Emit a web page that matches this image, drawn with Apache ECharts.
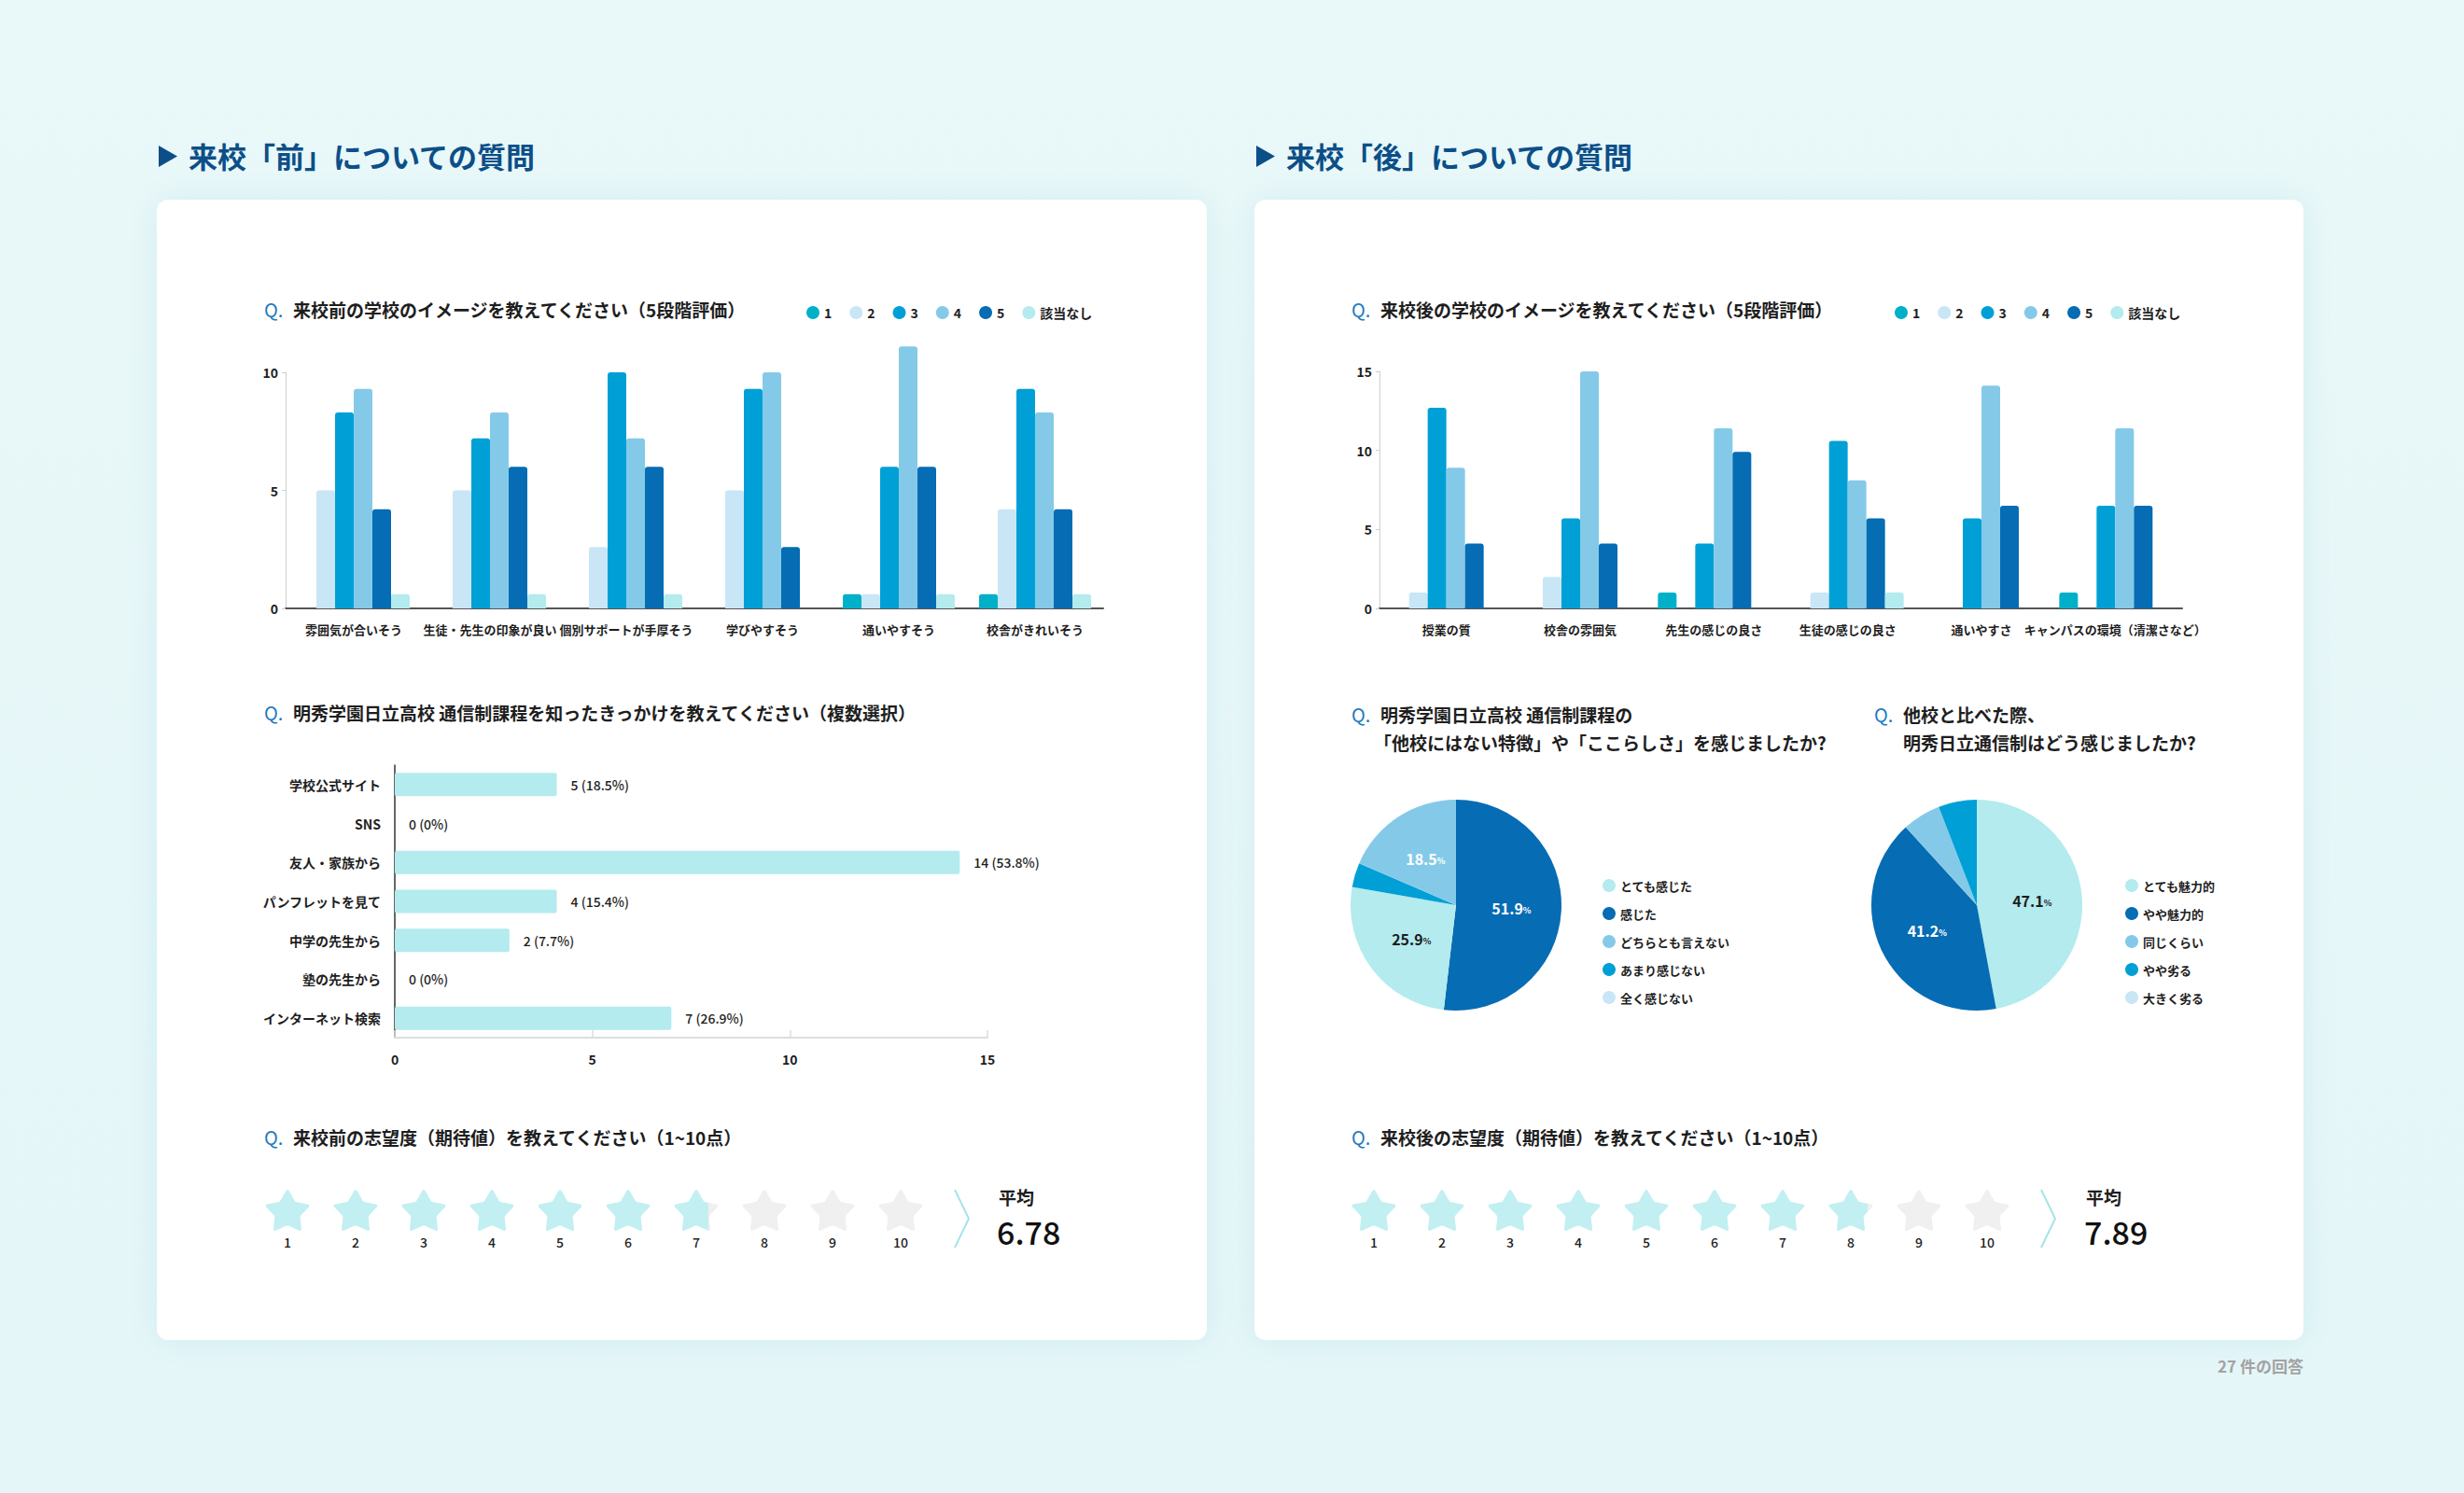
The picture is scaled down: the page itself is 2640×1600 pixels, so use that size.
<!DOCTYPE html>
<html><head><meta charset="utf-8">
<script src="https://cdn.jsdelivr.net/npm/echarts@6/dist/echarts.min.js"></script>
<style>
html,body{margin:0;padding:0;background:#e7f7f8;}
#wrap{position:relative;width:2640px;height:1600px;background:linear-gradient(180deg,#e9f8f9,#e4f6f8);overflow:hidden;}
.card{position:absolute;top:214px;height:1222px;background:#fff;border-radius:12px;box-shadow:0 0 34px rgba(0,130,160,0.09);}
#chart{position:absolute;left:0;top:0;width:2640px;height:1600px;}
</style></head><body>
<div id="wrap">
<div class="card" style="left:168px;width:1125px"></div>
<div class="card" style="left:1344px;width:1124px"></div>
<div id="chart"></div>
</div>
<script>
// ---------- data ----------
const ratingNames = ['1','2','3','4','5','該当なし'];
const catsBefore = ['雰囲気が合いそう','生徒・先生の印象が良い','個別サポートが手厚そう','学びやすそう','通いやすそう','校舎がきれいそう'];
const before1  = [0, 0, 0, 0, 0.6, 0.6];
const before2  = [5, 5, 2.6, 5, 0.6, 4.2];
const before3  = [8.3, 7.2, 10, 9.3, 6, 9.3];
const before4  = [9.3, 8.3, 7.2, 10, 11.1, 8.3];
const before5  = [4.2, 6, 6, 2.6, 6, 4.2];
const beforeNA = [0.6, 0.6, 0.6, 0, 0.6, 0.6];
const beforeTicks = [0, 5, 10];

const catsAfter = ['授業の質','校舎の雰囲気','先生の感じの良さ','生徒の感じの良さ','通いやすさ','キャンパスの環境（清潔さなど）'];
const after1  = [0, 0, 1, 0, 0, 1];
const after2  = [1, 2, 0, 1, 0, 0];
const after3  = [12.7, 5.7, 4.1, 10.6, 5.7, 6.5];
const after4  = [8.9, 15, 11.4, 8.1, 14.1, 11.4];
const after5  = [4.1, 4.1, 9.9, 5.7, 6.5, 6.5];
const afterNA = [0, 0, 0, 1, 0, 0];
const afterTicks = [0, 5, 10, 15];

const sourceCats   = ['学校公式サイト','SNS','友人・家族から','パンフレットを見て','中学の先生から','塾の先生から','インターネット検索'];
const sourceBars   = [4.1, 0, 14.3, 4.1, 2.9, 0, 7];
const sourceLabels = ['5 (18.5%)','0 (0%)','14 (53.8%)','4 (15.4%)','2 (7.7%)','0 (0%)','7 (26.9%)'];
const sourceTicks  = [0, 5, 10, 15];

const pie1Legend = ['とても感じた','感じた','どちらとも言えない','あまり感じない','全く感じない'];
const pie1Slices = ['感じた','とても感じた','あまり感じない','どちらとも言えない','全く感じない'];
const pie1Counts = [14, 7, 1, 5, 0];

const pie2Legend = ['とても魅力的','やや魅力的','同じくらい','やや劣る','大きく劣る'];
const pie2Slices = ['とても魅力的','やや魅力的','同じくらい','やや劣る','大きく劣る'];
const pie2Counts = [8, 7, 1, 1, 0];

const starLabels = ['1','2','3','4','5','6','7','8','9','10'];
const avgBefore = 6.78;
const avgAfter = 7.89;

// ---------- style ----------
const FONT = "'Noto Sans CJK JP','Noto Sans',sans-serif";
const ratingColors = ['#00b0c9','#c8e6f6','#00a0d6','#84cae8','#066cb4','#b3ebee'];
const pieColors = {
  'とても感じた':'#b3ebee','感じた':'#066cb4','どちらとも言えない':'#84cae8','あまり感じない':'#00a0d6','全く感じない':'#c8e6f6',
  'とても魅力的':'#b3ebee','やや魅力的':'#066cb4','同じくらい':'#84cae8','やや劣る':'#00a0d6','大きく劣る':'#c8e6f6'
};
const STAR_ON = '#b3ebee', STAR_OFF = '#ececec';
const HEAD = '#0c4f88', QBLUE = '#1f7ac0', INK = '#1e1e1e';

function starPath(){
  const pts = [];
  const R = 50, r = 27;
  for (let k = 0; k < 10; k++) {
    const a = -Math.PI/2 + k*Math.PI/5;
    const rr = k % 2 ? r : R;
    pts.push([50 + rr*Math.cos(a), 50 + rr*Math.sin(a)]);
  }
  let d = '';
  for (let k = 0; k < 10; k++) {
    const p = pts[k], pr = pts[(k+9)%10], pn = pts[(k+1)%10];
    const t = k % 2 ? 0.10 : 0.22;
    const a = [p[0]+(pr[0]-p[0])*t, p[1]+(pr[1]-p[1])*t];
    const b = [p[0]+(pn[0]-p[0])*t, p[1]+(pn[1]-p[1])*t];
    d += (k===0?'M':'L') + a[0].toFixed(2)+' '+a[1].toFixed(2) + ' Q' + p[0].toFixed(2)+' '+p[1].toFixed(2)+' '+b[0].toFixed(2)+' '+b[1].toFixed(2)+' ';
  }
  return 'path://' + d + 'Z';
}
const STAR = starPath();

function barSeries(arrs, idx){
  return arrs.map((d, i) => ({
    name: ratingNames[i], type: 'bar', xAxisIndex: idx, yAxisIndex: idx,
    data: d.map(v => v === 0 ? '-' : v),
    barWidth: 20, barGap: '0%', clip: false, silent: true,
    itemStyle: { color: ratingColors[i], borderRadius: [3,3,0,0] },
    emphasis: { disabled: true }
  }));
}

function starSeries(avg, idx){
  return {
    type: 'scatter', xAxisIndex: idx, yAxisIndex: idx, silent: true,
    symbol: STAR, symbolSize: [47, 44],
    emphasis: { disabled: true },
    data: starLabels.map((l, i) => {
      const f = Math.max(0, Math.min(1, avg - i));
      return {
        value: [i, 0.5],
        itemStyle: { color: { type:'linear', x:0, y:0, x2:1, y2:0, colorStops: [
          {offset:0, color:STAR_ON},{offset:f, color:STAR_ON},{offset:f, color:STAR_OFF},{offset:1, color:STAR_OFF}] } }
      };
    })
  };
}

function pieSeries(names, counts, center){
  const total = counts.reduce((a,b)=>a+b, 0);
  return {
    type: 'pie', center: center, radius: 113, startAngle: 90, clockwise: true,
    silent: true, avoidLabelOverlap: false, emphasis: { disabled: true },
    itemStyle: { borderWidth: 0 },
    labelLine: { show: false },
    label: {
      show: true, position: 'inside', fontFamily: FONT,
      formatter: p => { const pct = p.value/total*100; return pct >= 10 ? '{v|' + pct.toFixed(1) + '}{p|%}' : ''; },
      rich: { v: { fontSize: 16, fontWeight: 'bold', fontFamily: FONT }, p: { fontSize: 9, fontWeight: 'bold', fontFamily: FONT, padding: [5,0,0,0] } }
    },
    data: names.map((n, i) => ({
      name: n, value: counts[i],
      itemStyle: { color: pieColors[n] },
      label: { color: pieColors[n] === '#b3ebee' ? INK : '#ffffff' }
    }))
  };
}

function txt(x, y, text, size, weight, color, align){
  return { type: 'text', x: x, y: y, silent: true, style: {
    text: text, fontSize: size, fontWeight: weight, fontFamily: FONT, fill: color,
    align: align || 'left', textAlign: align || 'left', verticalAlign: 'middle', textVerticalAlign: 'middle' } };
}
function question(x, y, body, noQ){
  const out = [];
  if (!noQ) out.push(txt(x, y, 'Q.', 20, 'normal', QBLUE));
  out.push(txt(x + (noQ ? 0 : 31), y, body, 19, 'bold', INK));
  return out;
}

const legendBase = { icon: 'circle', itemWidth: 14, itemHeight: 14, selectedMode: false,
  itemStyle: { borderWidth: 0 },
  textStyle: { fontSize: 14, fontWeight: 'bold', color: INK, fontFamily: FONT } };

const valueAxis = (ticks, idx) => ({
  type: 'value', gridIndex: idx, min: ticks[0], max: ticks[ticks.length-1], interval: ticks[1]-ticks[0],
  axisLine: { show: true, lineStyle: { color: '#cfcfcf', width: 1 } },
  axisTick: { show: true, length: 4, lineStyle: { color: '#cfcfcf' } },
  splitLine: { show: false },
  axisLabel: { fontSize: 14, fontWeight: 'bold', color: INK, fontFamily: FONT, margin: 8 }
});
const catAxis = (cats, idx) => ({
  type: 'category', gridIndex: idx, data: cats,
  axisLine: { show: true, lineStyle: { color: '#555', width: 2 } },
  axisTick: { show: false },
  axisLabel: { fontSize: 13, fontWeight: 'bold', color: INK, fontFamily: FONT, margin: 16, interval: 0 }
});
const starX = (idx) => ({ type: 'category', gridIndex: idx, data: starLabels, boundaryGap: true,
  axisLine: { show: false }, axisTick: { show: false },
  axisLabel: { fontSize: 14, fontWeight: 500, color: INK, fontFamily: FONT, margin: 6, interval: 0 } });
const starY = (idx) => ({ type: 'value', gridIndex: idx, min: 0, max: 1, show: false });

const option = {
  backgroundColor: 'transparent',
  animation: false,
  textStyle: { fontFamily: FONT },
  grid: [
    { left: 306, top: 399, width: 876, height: 253, outerBoundsMode: 'none' },
    { left: 1478, top: 398, width: 860, height: 254, outerBoundsMode: 'none' },
    { left: 423, top: 820, width: 635, height: 292, outerBoundsMode: 'none' },
    { left: 271.5, top: 1276, width: 730, height: 42, outerBoundsMode: 'none' },
    { left: 1435.5, top: 1276, width: 730, height: 42, outerBoundsMode: 'none' }
  ],
  xAxis: [
    catAxis(catsBefore, 0),
    catAxis(catsAfter, 1),
    { type: 'value', gridIndex: 2, min: sourceTicks[0], max: sourceTicks[sourceTicks.length-1], interval: sourceTicks[1]-sourceTicks[0],
      axisLine: { show: true, lineStyle: { color: '#dddddd', width: 2 } },
      axisTick: { show: true, inside: true, length: 8, lineStyle: { color: '#dddddd', width: 1.5 } },
      splitLine: { show: false },
      axisLabel: { fontSize: 14, fontWeight: 'bold', color: INK, fontFamily: FONT, margin: 16 } },
    starX(3), starX(4)
  ],
  yAxis: [
    valueAxis(beforeTicks, 0),
    valueAxis(afterTicks, 1),
    { type: 'category', gridIndex: 2, data: sourceCats, inverse: true,
      axisLine: { show: true, lineStyle: { color: '#333', width: 1.5 } },
      axisTick: { show: false },
      axisLabel: { fontSize: 14, fontWeight: 'bold', color: INK, fontFamily: FONT, margin: 15 } },
    starY(3), starY(4)
  ],
  legend: [
    Object.assign({}, legendBase, { left: 859, top: 323, itemGap: 19, data: ratingNames }),
    Object.assign({}, legendBase, { left: 2025, top: 323, itemGap: 19, data: ratingNames }),
    Object.assign({}, legendBase, { left: 1712, top: 937, orient: 'vertical', itemGap: 16, data: pie1Legend,
      textStyle: { fontSize: 13, fontWeight: 'bold', color: INK, fontFamily: FONT } }),
    Object.assign({}, legendBase, { left: 2272, top: 937, orient: 'vertical', itemGap: 16, data: pie2Legend,
      textStyle: { fontSize: 13, fontWeight: 'bold', color: INK, fontFamily: FONT } })
  ],
  series: [].concat(
    barSeries([before1, before2, before3, before4, before5, beforeNA], 0),
    barSeries([after1, after2, after3, after4, after5, afterNA], 1),
    [{
      type: 'bar', xAxisIndex: 2, yAxisIndex: 2, silent: true, barWidth: 25,
      data: sourceBars, itemStyle: { color: '#b3ebee', borderRadius: 2 },
      emphasis: { disabled: true },
      label: { show: true, position: 'right', distance: 15, fontSize: 14, fontWeight: 500, color: INK, fontFamily: FONT,
        formatter: p => sourceLabels[p.dataIndex] }
    }],
    [pieSeries(pie1Slices, pie1Counts, [1560, 970]), pieSeries(pie2Slices, pie2Counts, [2118, 970])],
    [starSeries(avgBefore, 3), starSeries(avgAfter, 4)]
  ),
  graphic: { elements: [].concat(
    [{ type: 'polygon', silent: true, shape: { points: [[170,156],[190,167.5],[170,179]] }, style: { fill: HEAD } },
     txt(202, 166, '来校「前」についての質問', 31, 'bold', HEAD),
     { type: 'polygon', silent: true, shape: { points: [[1346,156],[1366,167.5],[1346,179]] }, style: { fill: HEAD } },
     txt(1378, 166, '来校「後」についての質問', 31, 'bold', HEAD)],
    question(283, 331, '来校前の学校のイメージを教えてください（5段階評価）'),
    question(283, 763, '明秀学園日立高校 通信制課程を知ったきっかけを教えてください（複数選択）'),
    question(283, 1218, '来校前の志望度（期待値）を教えてください（1~10点）'),
    question(1448, 331, '来校後の学校のイメージを教えてください（5段階評価）'),
    question(1448, 765, '明秀学園日立高校 通信制課程の'),
    question(1472, 795, '「他校にはない特徴」や「ここらしさ」を感じましたか?', true),
    question(2008, 765, '他校と比べた際、'),
    question(2039, 795, '明秀日立通信制はどう感じましたか?', true),
    question(1448, 1218, '来校後の志望度（期待値）を教えてください（1~10点）'),
    [{ type: 'polyline', silent: true, shape: { points: [[1023,1275],[1038,1306],[1023,1337]] }, style: { stroke: '#a6e3ea', lineWidth: 2, fill: null } },
     { type: 'polyline', silent: true, shape: { points: [[2187,1275],[2202,1306],[2187,1337]] }, style: { stroke: '#a6e3ea', lineWidth: 2, fill: null } },
     txt(1070, 1282, '平均', 19, 'bold', INK),
     txt(1068, 1319, avgBefore.toFixed(2), 34, 500, '#111'),
     txt(2235, 1282, '平均', 19, 'bold', INK),
     txt(2233, 1319, avgAfter.toFixed(2), 34, 500, '#111'),
     txt(2468, 1463, '27 件の回答', 17, 'bold', '#a3a3a3', 'right')]
  ) }
};

const chart = echarts.init(document.getElementById('chart'), null, { renderer: 'svg', width: 2640, height: 1600 });
chart.setOption(option);
</script>
</body></html>
